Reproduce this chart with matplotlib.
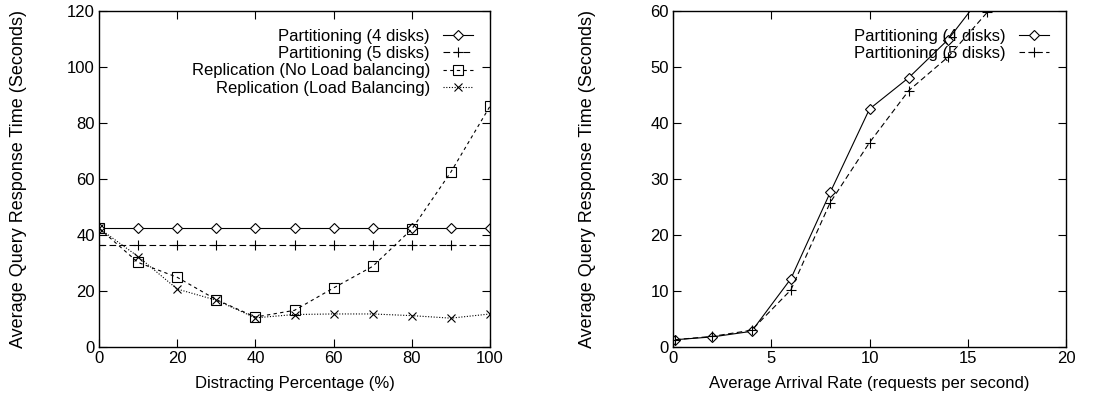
import numpy as np
import matplotlib
matplotlib.use("Agg")
import matplotlib.pyplot as plt

plt.rcParams['font.family'] = ['Liberation Sans', 'DejaVu Sans']
plt.rcParams['font.size'] = 12

# left panel: response time vs distracting percentage
pct = [0, 10, 20, 30, 40, 50, 60, 70, 80, 90, 100]
part4 = [42.4] * 11
part5 = [36.4] * 11
repl_nolb = [42.4, 30.2, 24.9, 16.9, 10.7, 13.1, 21.1, 28.8, 42.1, 62.5, 86.0]
repl_lb = [42.4, 32.3, 20.7, 16.7, 10.4, 11.6, 11.8, 11.8, 11.2, 10.3, 11.8]

# right panel: response time vs arrival rate
rate4 = [0.1, 2, 4, 6, 8, 10, 12, 14, 16]
resp4 = [1.3, 1.8, 2.8, 12.2, 27.6, 42.5, 48.1, 54.9, 64.0]
rate5 = [0.1, 2, 4, 6, 8, 10, 12, 14, 16]
resp5 = [1.3, 1.9, 3.0, 10.2, 25.8, 36.5, 45.8, 51.8, 59.8]

fig = plt.figure(figsize=(11.17, 3.99), dpi=100)
W, H = 1117, 399
ax1 = fig.add_axes([99 / W, 1 - 347 / H, (490 - 99) / W, (347 - 11) / H])
ax2 = fig.add_axes([673 / W, 1 - 347 / H, (1066 - 673) / W, (347 - 11) / H])

lw = 0.8
ax1.plot(pct, part4, '-', color='k', lw=lw, marker='D', ms=5, mfc='white', mec='k', mew=0.8,
         label='Partitioning (4 disks)')
ax1.plot(pct, part5, color='k', lw=lw, ls=(0, (6, 3)), marker='+', ms=7, mew=0.8,
         label='Partitioning (5 disks)')
ax1.plot(pct, repl_nolb, color='k', lw=lw, ls=(0, (3, 3)), marker='s', ms=6.5, mfc='none', mec='k', mew=0.8,
         label='Replication (No Load balancing)')
ax1.plot(pct, repl_lb, color='k', lw=lw, ls=(0, (1, 1.5)), marker='x', ms=6, mew=0.8,
         label='Replication (Load Balancing)')
ax1.set_xlim(0, 100)
ax1.set_ylim(0, 120)
ax1.set_xticks(range(0, 101, 20))
ax1.set_yticks(range(0, 121, 20))
ax1.set_xlabel('Distracting Percentage (%)')
ax1.set_ylabel('Average Query Response Time (Seconds)', fontsize=13)

ax2.plot(rate4, resp4, '-', color='k', lw=lw, marker='D', ms=5, mfc='white', mec='k', mew=0.8,
         label='Partitioning (4 disks)')
ax2.plot(rate5, resp5, color='k', lw=lw, ls=(0, (5, 3)), marker='+', ms=7, mew=0.8,
         label='Partitioning (5 disks)')
ax2.set_xlim(0, 20)
ax2.set_ylim(0, 60)
ax2.set_xticks(range(0, 21, 5))
ax2.set_yticks(range(0, 61, 10))
ax2.set_xlabel('Average Arrival Rate (requests per second)')
ax2.set_ylabel('Average Query Response Time (Seconds)', fontsize=13)

for ax in (ax1, ax2):
    ax.tick_params(direction='in', top=True, right=True, length=6, width=0.8, labelsize=12)
    ax.tick_params(axis='x', pad=3)
    ax.tick_params(axis='y', pad=3)
    for s in ax.spines.values():
        s.set_linewidth(1.0)
    ax.xaxis.set_label_coords(0.5, -0.086)
    leg = ax.legend(loc='upper right', frameon=False, markerfirst=False, handlelength=1.8,
                    handletextpad=0.75, labelspacing=0.15, borderaxespad=0.75, fontsize=12,
                    borderpad=0.3)
    for t in leg.get_texts():
        t.set_ha('right')
    leg._legend_box.align = 'right'
ax1.yaxis.set_label_coords(-0.183, 0.5)
ax2.yaxis.set_label_coords(-0.196, 0.5)

fig.savefig('out.png', dpi=100)
